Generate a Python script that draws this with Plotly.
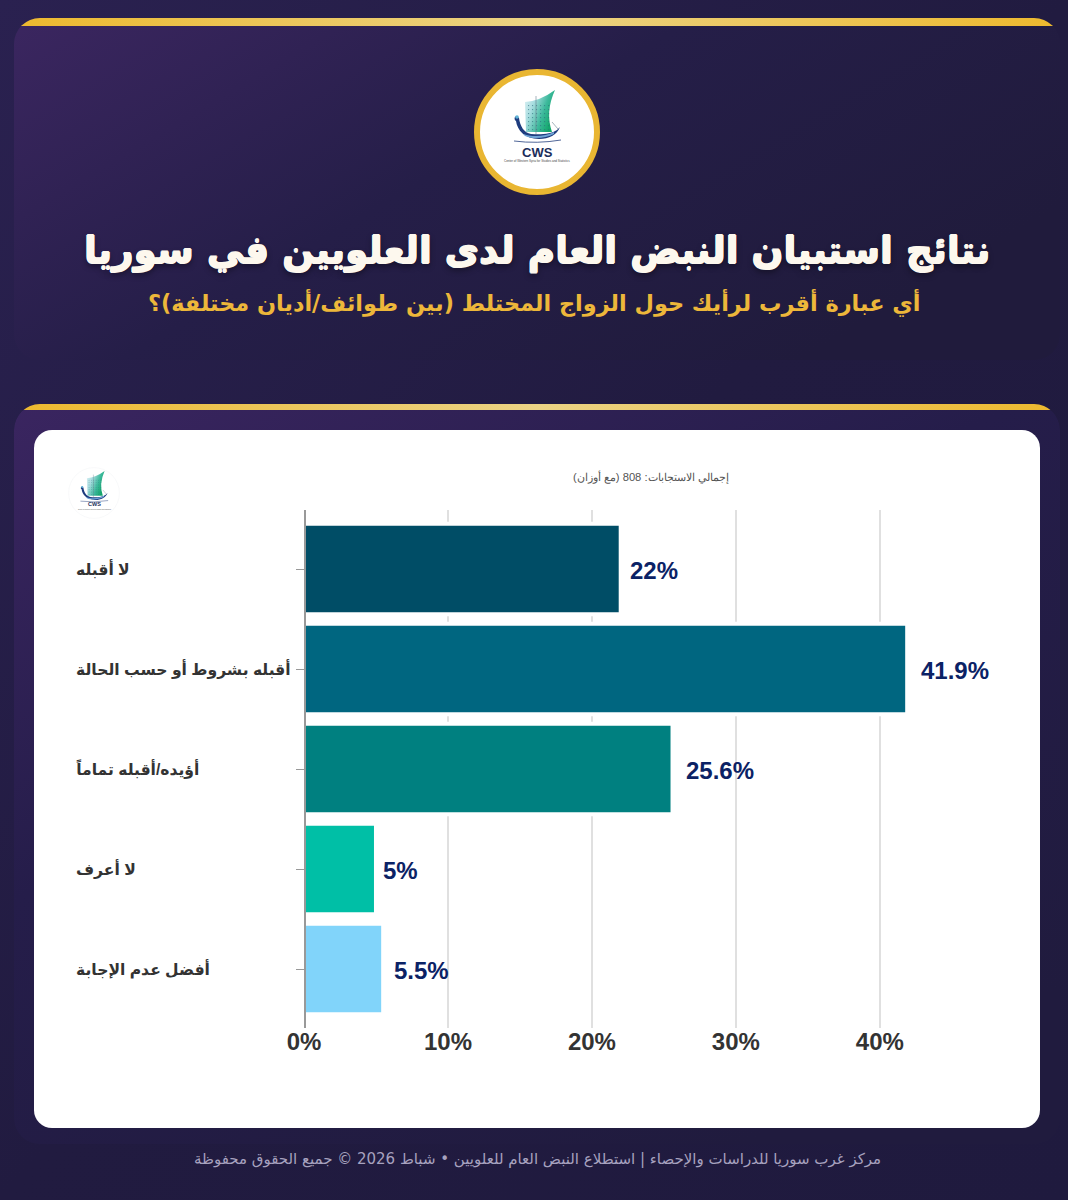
import base64
import plotly.graph_objects as go

W = 1068
H = 1200

categories = ['لا أقبله', 'أقبله بشروط أو حسب الحالة', 'أؤيده/أقبله تماماً', 'لا أعرف', 'أفضل عدم الإجابة']
values = [22, 41.9, 25.6, 5, 5.5]
bar_colors = ['#004D66', '#006680', '#008080', '#00BFA6', '#81D4FA']
label_shift = [7, 12, 11, 5, 9]
x_ticks = [0, 10, 20, 30, 40]

title_text = 'نتائج استبيان النبض العام لدى العلويين في سوريا'
subtitle_text = 'أي عبارة أقرب لرأيك حول الزواج المختلط (بين طوائف/أديان مختلفة)؟'
total_text = 'إجمالي الاستجابات: 808 (مع أوزان)'
footer_text = 'مركز غرب سوريا للدراسات والإحصاء | استطلاع النبض العام للعلويين • شباط 2026 © جميع الحقوق محفوظة'
logo_name = 'Center of Western Syria for Studies and Statistics'


def rtl(s):
    return '\u202b' + s + '\u202c'


def px(x):
    return x / W


def py(y):
    return 1 - y / H


def svg_uri(svg):
    return 'data:image/svg+xml;base64,' + base64.b64encode(svg.encode()).decode()


# background panels, gold strips and the white card
background = f'''<svg xmlns="http://www.w3.org/2000/svg" width="{W}" height="{H}" viewBox="0 0 {W} {H}">
<defs>
<linearGradient id="page" x1="0" y1="0" x2="1" y2="1"><stop offset="0" stop-color="#2A2150"/><stop offset="0.5" stop-color="#211B40"/><stop offset="1" stop-color="#1F1A3E"/></linearGradient>
<linearGradient id="panel" x1="0" y1="0" x2="1" y2="0.55"><stop offset="0" stop-color="#3B2660"/><stop offset="0.5" stop-color="#251E48"/><stop offset="1" stop-color="#201B3C"/></linearGradient>
<linearGradient id="panel2" x1="0" y1="0" x2="0.7" y2="1"><stop offset="0" stop-color="#3A2560"/><stop offset="0.45" stop-color="#251D4A"/><stop offset="1" stop-color="#201B3E"/></linearGradient>
<linearGradient id="gold" x1="0" y1="0" x2="1" y2="0"><stop offset="0" stop-color="#EDB92E"/><stop offset="0.5" stop-color="#EBD385"/><stop offset="1" stop-color="#EDB92E"/></linearGradient>
<clipPath id="c1"><rect x="14" y="18" width="1046" height="342" rx="26"/></clipPath>
<clipPath id="c2"><rect x="14" y="404" width="1046" height="800" rx="26"/></clipPath>
</defs>
<rect width="{W}" height="{H}" fill="url(#page)"/>
<rect x="14" y="18" width="1046" height="342" rx="26" fill="url(#panel)"/>
<rect x="14" y="18" width="1046" height="8" fill="url(#gold)" clip-path="url(#c1)"/>
<rect x="14" y="404" width="1046" height="740" rx="26" fill="url(#panel2)" clip-path="url(#c2)"/>
<rect x="14" y="404" width="1046" height="6" fill="url(#gold)" clip-path="url(#c2)"/>
<rect x="34" y="430" width="1006" height="698" rx="18" fill="#FFFFFF"/>
</svg>'''

# ship emblem, drawn around the circle centre
cells = ''.join(
    f'<rect x="{-9 + i * 4}" y="{-27 + j * 4}" width="1.1" height="1.1" fill="#2B6E7C" opacity="0.6"/>'
    for i in range(6) for j in range(7)
)


def logo_svg(ring, ring_width, ship_scale=1, ship_dy=0):
    return f'''<svg xmlns="http://www.w3.org/2000/svg" width="256" height="256" viewBox="-64 -64 128 128">
<defs><linearGradient id="sail" x1="0" y1="0" x2="1" y2="0.5"><stop offset="0" stop-color="#E6F4F8"/><stop offset="0.35" stop-color="#A8DDE0"/><stop offset="0.7" stop-color="#3DB99C"/><stop offset="1" stop-color="#14A76C"/></linearGradient></defs>
<circle r="{63 - ring_width / 2}" fill="#FFFFFF" stroke="{ring}" stroke-width="{ring_width}"/>
<g transform="translate(0,{ship_dy}) scale({ship_scale})">
<path d="M-12,-30 Q3,-31 18,-42 Q8,-20 15,0 L-11,0 Z" fill="url(#sail)"/>
{cells}
<path d="M-20,-16 C-23,-16 -23,-12 -21,-11 C-20,-2 -12,7 2,7 C12,7 20,3 23,-5 L20,-2 C14,2 4,3 -6,2 C-13,1 -17,-6 -18,-14 Z" fill="#1E3C7E"/>
<path d="M-14,2 C-6,5 8,5 17,0 L17,2 C8,7 -6,7 -12,4 Z" fill="#6FA3D6"/>
<circle cx="-20" cy="-15" r="1.8" fill="#5FB4D8"/>
<path d="M-23,9 Q0,12 24,8" fill="none" stroke="#24407E" stroke-width="0.8"/>
<path d="M-1,-36 L-1,2 M15,-10 L21,-3" stroke="#6C7F90" stroke-width="0.6"/>
</g>
</svg>'''


fig = go.Figure()

fig.add_trace(go.Bar(
    x=values,
    y=categories,
    orientation='h',
    marker=dict(color=bar_colors, line=dict(color='#FFFFFF', width=4)),
    width=0.905,
    hoverinfo='skip',
))

images = [
    dict(source=svg_uri(background), xref='paper', yref='paper', x=0, y=1, sizex=1, sizey=1,
         sizing='stretch', xanchor='left', yanchor='top', layer='below'),
    dict(source=svg_uri(logo_svg('#E9B632', 6)), xref='paper', yref='paper', x=px(537), y=py(132),
         sizex=px(128), sizey=128 / H, sizing='stretch', xanchor='center', yanchor='middle', layer='above'),
    dict(source=svg_uri(logo_svg('#EEF1F3', 1, 1.45, 7)), xref='paper', yref='paper', x=px(94), y=py(493),
         sizex=px(52), sizey=52 / H, sizing='stretch', xanchor='center', yanchor='middle', layer='above'),
]

annotations = []


def add_text(text, x, y, size, color, family='DejaVu Sans', bold=False, anchor='center', shadow=None):
    annotations.append(dict(
        text=text, x=px(x), y=py(y), xref='paper', yref='paper', xanchor=anchor, yanchor='middle',
        showarrow=False,
        font=dict(family=family, size=size, color=color, weight='bold' if bold else 'normal',
                  shadow=shadow or 'none'),
    ))


# the reference headline is heavier than DejaVu Bold, a same colour shadow thickens it
heavy = '0.7px 0 0 #FDF8EE, -0.7px 0 0 #FDF8EE, 0 0.7px 0 #FDF8EE, 0 -0.7px 0 #FDF8EE, 0px 3px 6px rgba(0,0,0,0.45)'
add_text(rtl(title_text), 537, 250, 37.4, '#FDF8EE', bold=True, shadow=heavy)
add_text(rtl(subtitle_text), 534, 302, 22.4, '#EDB73A', bold=True)
add_text(rtl(total_text), 651, 477, 11.2, '#555555', family='Liberation Sans')
add_text(rtl(footer_text), 537, 1159, 15, '#A7A2BF')
add_text('CWS', 537, 152, 13, '#1C2D5A', family='Liberation Sans', bold=True)
add_text(logo_name, 537, 161, 3, '#444444', family='Liberation Sans')
add_text('CWS', 94, 504, 5.5, '#1C2D5A', family='Liberation Sans', bold=True)
add_text(logo_name, 94, 509, 1.5, '#444444', family='Liberation Sans')

# category labels are flush left in the card
for cat in categories:
    annotations.append(dict(
        text=rtl(cat), x=px(74), y=cat, xref='paper', yref='y', xanchor='left', yanchor='middle',
        showarrow=False, font=dict(family='Liberation Sans, DejaVu Sans', size=15.6, color='#333333', weight='bold'),
    ))

for cat, val, shift in zip(categories, values, label_shift):
    annotations.append(dict(
        text=f'{val}%', x=val, y=cat, xref='x', yref='y', xanchor='left', yanchor='middle',
        xshift=shift, yshift=-1, showarrow=False,
        font=dict(family='Liberation Sans', size=24, color='#0B2265', weight='bold'),
    ))

fig.update_layout(
    width=W,
    height=H,
    margin=dict(l=0, r=0, t=0, b=0),
    paper_bgcolor='#1F1A3E',
    plot_bgcolor='rgba(0,0,0,0)',
    showlegend=False,
    images=images,
    annotations=annotations,
    xaxis=dict(
        domain=[px(304), px(995)],
        range=[0, 48],
        automargin=False,
        tickmode='array',
        tickvals=x_ticks,
        ticktext=[f'{t}%' for t in x_ticks],
        tickfont=dict(family='Liberation Sans', size=24, color='#333333', weight='bold'),
        ticklabelstandoff=-3,
        showgrid=True,
        gridcolor='#E0E0E0',
        gridwidth=2,
        zeroline=False,
        showline=False,
        ticks='',
    ),
    yaxis=dict(
        domain=[py(1028), py(510)],
        anchor='free',
        position=px(305),
        type='category',
        categoryorder='array',
        categoryarray=categories,
        range=[4.59, -0.59],
        automargin=False,
        showticklabels=False,
        ticks='outside',
        ticklen=8,
        tickcolor='#999999',
        tickwidth=1,
        showgrid=False,
        zeroline=False,
        showline=True,
        linecolor='#999999',
        linewidth=2,
    ),
)

fig.write_html('out.html', config={'displayModeBar': False}, post_script="document.body.style.margin='0';")
